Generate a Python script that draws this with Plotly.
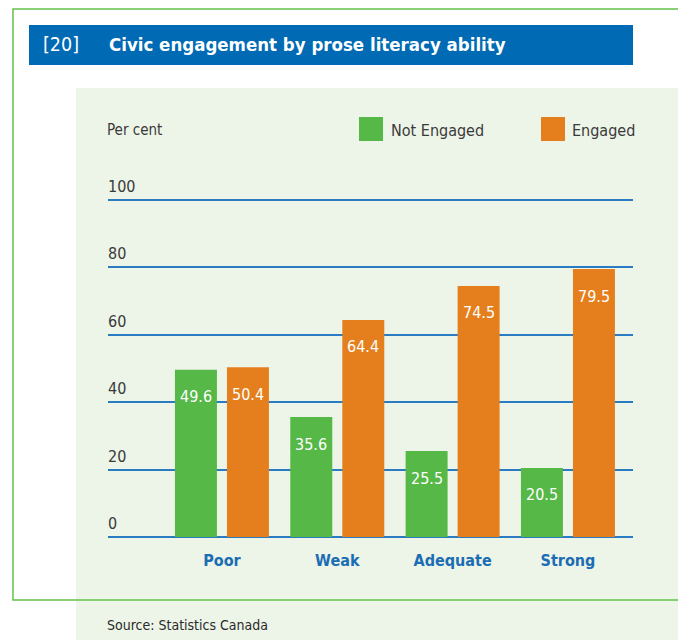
import plotly.graph_objects as go

categories = ['Poor', 'Weak', 'Adequate', 'Strong']
not_engaged = [49.6, 35.6, 25.5, 20.5]
engaged = [50.4, 64.4, 74.5, 79.5]
series_names = ['Not Engaged', 'Engaged']
y_ticks = [0, 20, 40, 60, 80, 100]

# the page puts the figure 8px in from the top-left corner
OFF = 8
W, H = 686 - OFF, 640 - OFF
FONT = 'DejaVu Sans Condensed, Liberation Sans, sans-serif'
GREEN = '#56b847'
ORANGE = '#e57f1e'
BLUE = '#006ab4'
TEXT = '#3a3a3a'


def px(x):
	return (x - OFF) / W


def py(y):
	return 1 - (y - OFF) / H


fig = go.Figure(data=[
	go.Bar(x=categories, y=not_engaged, width=0.364, offset=-0.4075, marker_color=GREEN,
		marker_line_width=0, name=series_names[0], showlegend=False),
	go.Bar(x=categories, y=engaged, width=0.364, offset=0.0434, marker_color=ORANGE,
		marker_line_width=0, name=series_names[1], showlegend=False),
])

annotations = []
# value labels inside the bars
for cat, a, b in zip(categories, not_engaged, engaged):
	annotations.append(dict(x=cat, y=a, text='{:.1f}'.format(a), showarrow=False, xshift=-26, yshift=-27,
		font=dict(family=FONT, size=16, color='white')))
	annotations.append(dict(x=cat, y=b, text='{:.1f}'.format(b), showarrow=False, xshift=26, yshift=-27,
		font=dict(family=FONT, size=16, color='white')))

# tick labels sitting above the gridlines
for t in y_ticks:
	annotations.append(dict(xref='paper', x=px(106), y=t, text=str(t), showarrow=False,
		xanchor='left', yanchor='bottom', yshift=2, font=dict(family=FONT, size=16, color=TEXT)))

annotations += [
	dict(xref='paper', yref='paper', x=px(105), y=py(130), text='Per cent', showarrow=False,
		xanchor='left', yanchor='middle', font=dict(family=FONT, size=15, color=TEXT)),
	dict(xref='paper', yref='paper', x=px(389), y=py(130), text=series_names[0], showarrow=False,
		xanchor='left', yanchor='middle', font=dict(family=FONT, size=16, color=TEXT)),
	dict(xref='paper', yref='paper', x=px(570), y=py(130), text=series_names[1], showarrow=False,
		xanchor='left', yanchor='middle', font=dict(family=FONT, size=16, color=TEXT)),
	dict(xref='paper', yref='paper', x=px(41), y=py(45), text='[20]', showarrow=False,
		xanchor='left', yanchor='middle', font=dict(family=FONT, size=19.5, color='white')),
	dict(xref='paper', yref='paper', x=px(107), y=py(45), text='<b>Civic engagement by prose literacy ability</b>',
		showarrow=False, xanchor='left', yanchor='middle', font=dict(family=FONT, size=18.5, color='white')),
	dict(xref='paper', yref='paper', x=px(105), y=py(625), text='Source: Statistics Canada', showarrow=False,
		xanchor='left', yanchor='middle', font=dict(family=FONT, size=14, color='#2a2a2a')),
]

shapes = [
	# light green panel
	dict(type='rect', xref='paper', yref='paper', x0=px(76), x1=px(700), y0=py(88), y1=py(650),
		fillcolor='#edf4e8', line_width=0, layer='below'),
	# green frame
	dict(type='rect', xref='paper', yref='paper', x0=px(13), x1=px(720), y0=py(9), y1=py(600),
		fillcolor='rgba(0,0,0,0)', line=dict(color='#63c14a', width=1.5), layer='below'),
	# title bar
	dict(type='rect', xref='paper', yref='paper', x0=px(29), x1=px(633), y0=py(25), y1=py(65),
		fillcolor=BLUE, line_width=0, layer='below'),
	# legend swatches
	dict(type='rect', xref='paper', yref='paper', x0=px(359), x1=px(383), y0=py(117), y1=py(141),
		fillcolor=GREEN, line_width=0),
	dict(type='rect', xref='paper', yref='paper', x0=px(541), x1=px(565), y0=py(117), y1=py(141),
		fillcolor=ORANGE, line_width=0),
]

fig.update_layout(
	autosize=False,
	width=W,
	height=H,
	paper_bgcolor='white',
	plot_bgcolor='rgba(0,0,0,0)',
	barmode='overlay',
	showlegend=False,
	margin=go.layout.Margin(l=0, r=0, b=0, t=0),
	xaxis=dict(
		domain=[px(108), px(633)],
		range=[-0.988, 3.564],
		showgrid=False,
		showline=False,
		zeroline=False,
		ticks='',
		tickfont=dict(family=FONT, size=16, color='#1b6db4', weight='bold'),
		ticklabelstandoff=12,
	),
	yaxis=dict(
		domain=[py(537), py(537 - 100.5 * 3.37)],
		range=[0, 100.5],
		tickvals=y_ticks,
		showticklabels=False,
		showgrid=True,
		gridcolor='#2a7bc1',
		gridwidth=1.6,
		zeroline=True,
		zerolinecolor='#2a7bc1',
		zerolinewidth=1.6,
		showline=False,
	),
	annotations=annotations,
	shapes=shapes,
)

fig.write_html('out.html')
